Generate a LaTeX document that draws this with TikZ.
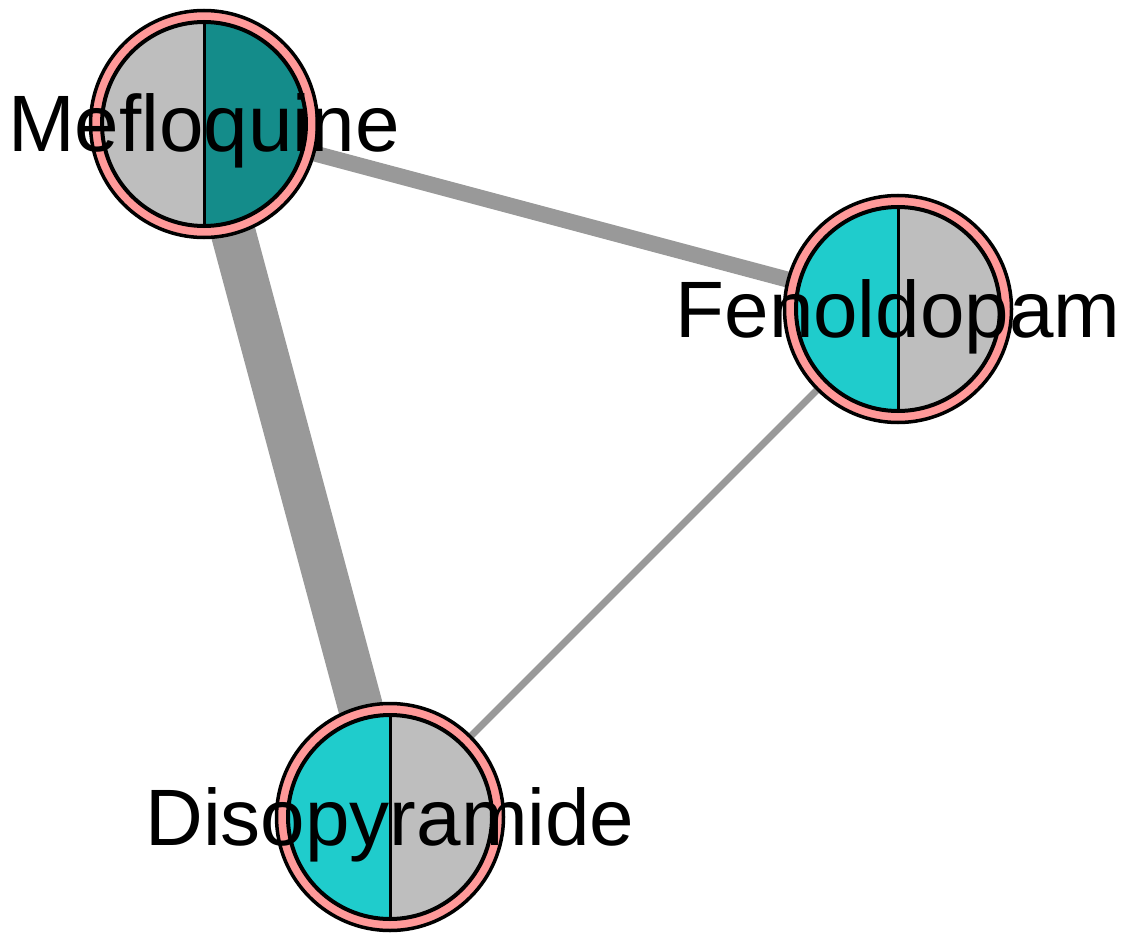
\documentclass[tikz,border=0pt]{standalone}
\usepackage{fontspec}
\setmainfont{Liberation Sans}
\usetikzlibrary{backgrounds}

\definecolor{ringpink}{HTML}{FF9999}
\definecolor{piegray}{HTML}{BEBEBE}
\definecolor{pieteal}{HTML}{148C8A}
\definecolor{piecyan}{HTML}{1FCCCC}
\definecolor{edgegray}{HTML}{999999}

% two coloured halves inside a ring node
\newcommand{\halves}[3]{%
  \fill[#2] ([yshift=102pt]#1.center) arc[start angle=90, end angle=270, radius=102pt] -- cycle;
  \fill[#3] ([yshift=102pt]#1.center) arc[start angle=90, end angle=-90, radius=102pt] -- cycle;
  \draw[line width=4pt] (#1.center) circle[radius=102pt];
  \draw[line width=3pt] ([yshift=102pt]#1.center) -- ([yshift=-102pt]#1.center);
}

\begin{document}
\begin{tikzpicture}[
    x=1pt, y=-1pt,
    ring/.style = {circle, draw, line width=3.5pt, fill=ringpink,
                   minimum size=227pt, inner sep=0pt},
    link/.style = {draw=edgegray, line width=#1},
    lbl/.style  = {font=\fontsize{80}{80}\selectfont, anchor=base,
                   yshift=-28pt, inner sep=0pt},
]
\useasboundingbox (0,0) rectangle (1129,936);

% Drug nodes
\node[ring] (mef) at (204,124) {};
\node[ring] (fen) at (898,309) {};
\node[ring] (dis) at (390,817) {};

\halves{mef}{piegray}{pieteal}
\halves{fen}{piecyan}{piegray}
\halves{dis}{piecyan}{piegray}

% Edges (behind the nodes)
\begin{scope}[on background layer]
\draw[link=45pt] (mef.center) -- (dis.center);
\draw[link=16pt] (mef.center) -- (fen.center);
\draw[link=7pt]  (fen.center) -- (dis.center);
\end{scope}

% Labels
\node[lbl] (meflbl) at (mef.center) {Mefloquine};
\node[lbl] (fenlbl) at (fen.center) {Fenoldopam};
\node[lbl] (dislbl) at (dis.center) {Disopyramide};

\end{tikzpicture}
\end{document}
